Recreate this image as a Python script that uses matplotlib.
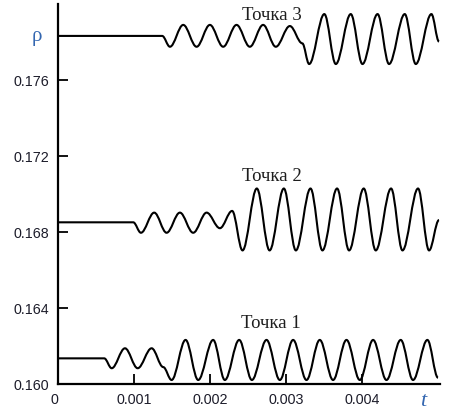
import matplotlib
matplotlib.use("Agg")
import matplotlib.pyplot as plt
import matplotlib.transforms as mtransforms
from matplotlib.path import Path
from matplotlib.patches import PathPatch

# ---- data: turning points (time, density) ----
t1 = [0.0, 0.000609, 0.000707, 0.000882, 0.001049, 0.001233, 0.001386, 0.001496,
      0.001680, 0.001846, 0.002043, 0.002197, 0.002386, 0.002553, 0.002746, 0.002921,
      0.003096, 0.003272, 0.003447, 0.003622, 0.003799, 0.003974, 0.004149, 0.004325,
      0.004513, 0.004675, 0.004864, 0.005004]
r1 = [0.16135, 0.16135, 0.16083, 0.16188, 0.16083, 0.16188, 0.16089, 0.16021,
      0.16232, 0.16021, 0.16232, 0.16021, 0.16232, 0.16021, 0.16232, 0.16021,
      0.16232, 0.16021, 0.16232, 0.16021, 0.16232, 0.16021, 0.16232, 0.16021,
      0.16232, 0.16021, 0.16232, 0.16033]

t2 = [0.0, 0.000991, 0.001092, 0.001267, 0.001430, 0.001605, 0.001780, 0.001957,
      0.002132, 0.002293, 0.002430, 0.002618, 0.002786, 0.002974, 0.003132, 0.003325,
      0.003482, 0.003675, 0.003833, 0.004026, 0.004184, 0.004386, 0.004536, 0.004741,
      0.004886, 0.005017]
r2 = [0.16851, 0.16851, 0.16796, 0.16902, 0.16796, 0.16902, 0.16796, 0.16902,
      0.16820, 0.16911, 0.16703, 0.17029, 0.16703, 0.17029, 0.16703, 0.17029,
      0.16703, 0.17029, 0.16703, 0.17029, 0.16703, 0.17029, 0.16703, 0.17029,
      0.16703, 0.16863]

t3 = [0.0, 0.001372, 0.001474, 0.001649, 0.001825, 0.002000, 0.002175, 0.002351,
      0.002526, 0.002701, 0.002868, 0.003053, 0.003217, 0.003307, 0.003507, 0.003658,
      0.003855, 0.004009, 0.004208, 0.004359, 0.004566, 0.004711, 0.004917, 0.005017]
r3 = [0.17832, 0.17832, 0.17775, 0.17890, 0.17775, 0.17890, 0.17775, 0.17890,
      0.17775, 0.17890, 0.17775, 0.17884, 0.17793, 0.17684, 0.17947, 0.17684,
      0.17947, 0.17684, 0.17947, 0.17684, 0.17947, 0.17684, 0.17947, 0.17802]

labels = ["Точка 1", "Точка 2", "Точка 3"]
label_t = [0.00280, 0.00282, 0.00281]
label_r = [0.16320, 0.17091, 0.17942]

xticks = [0, 0.001, 0.002, 0.003, 0.004]
xticklabels = ["0", "0.001", "0.002", "0.003", "0.004"]
yticks = [0.160, 0.164, 0.168, 0.172, 0.176]
yticklabels = ["0.160", "0.164", "0.168", "0.172", "0.176"]


def smooth_path(ts, rs, k=0.36):
    """Smooth curve through turning points (horizontal tangent at each)."""
    verts = [(ts[0], rs[0])]
    codes = [Path.MOVETO]
    for i in range(1, len(ts)):
        dt = ts[i] - ts[i - 1]
        verts += [(ts[i - 1] + k * dt, rs[i - 1]), (ts[i] - k * dt, rs[i]), (ts[i], rs[i])]
        codes += [Path.CURVE4] * 3
    return Path(verts, codes)


fig = plt.figure(figsize=(4.54, 4.13), dpi=100)
ax = fig.add_axes([58 / 454, 1 - 384 / 413, (440 - 58) / 454, (384 - 4) / 413])
ax.set_xlim(0, 0.00503)
ax.set_ylim(0.160, 0.1800)

for ts, rs in [(t1, r1), (t2, r2), (t3, r3)]:
    ax.add_patch(PathPatch(smooth_path(ts, rs), facecolor="none", edgecolor="black",
                           lw=1.5, capstyle="butt", joinstyle="round"))

for lab, lt, lr in zip(labels, label_t, label_r):
    ax.text(lt, lr, lab, ha="center", va="center", fontsize=13.5,
            family="Liberation Serif", color="#1e1e1e")

for s in ["top", "right"]:
    ax.spines[s].set_visible(False)
for s in ["left", "bottom"]:
    ax.spines[s].set_linewidth(1.6)

ax.set_xticks(xticks)
ax.set_xticklabels(xticklabels)
ax.set_yticks(yticks)
ax.set_yticklabels(yticklabels)
ax.tick_params(direction="in", length=7, width=1.3, pad=6.5, labelsize=10.3,
               colors="black", labelcolor="#1c1c2a")
for lab in ax.get_xticklabels() + ax.get_yticklabels():
    lab.set_family("Liberation Sans")
# the "0" label sits a little left of the origin in the reference
xl = ax.get_xticklabels()[0]
xl.set_transform(xl.get_transform() + mtransforms.ScaledTranslation(-4 / 100, 0, fig.dpi_scale_trans))

fig.text(37 / 454, 1 - 36 / 413, "ρ", ha="center", va="center", fontsize=15,
         family="Liberation Serif", color="#3366b0")
fig.text(423 / 454, 1 - 401 / 413, "t", ha="center", va="center", fontsize=16,
         family="Liberation Serif", style="italic", color="#3366b0")

fig.savefig("out.png", dpi=100)
